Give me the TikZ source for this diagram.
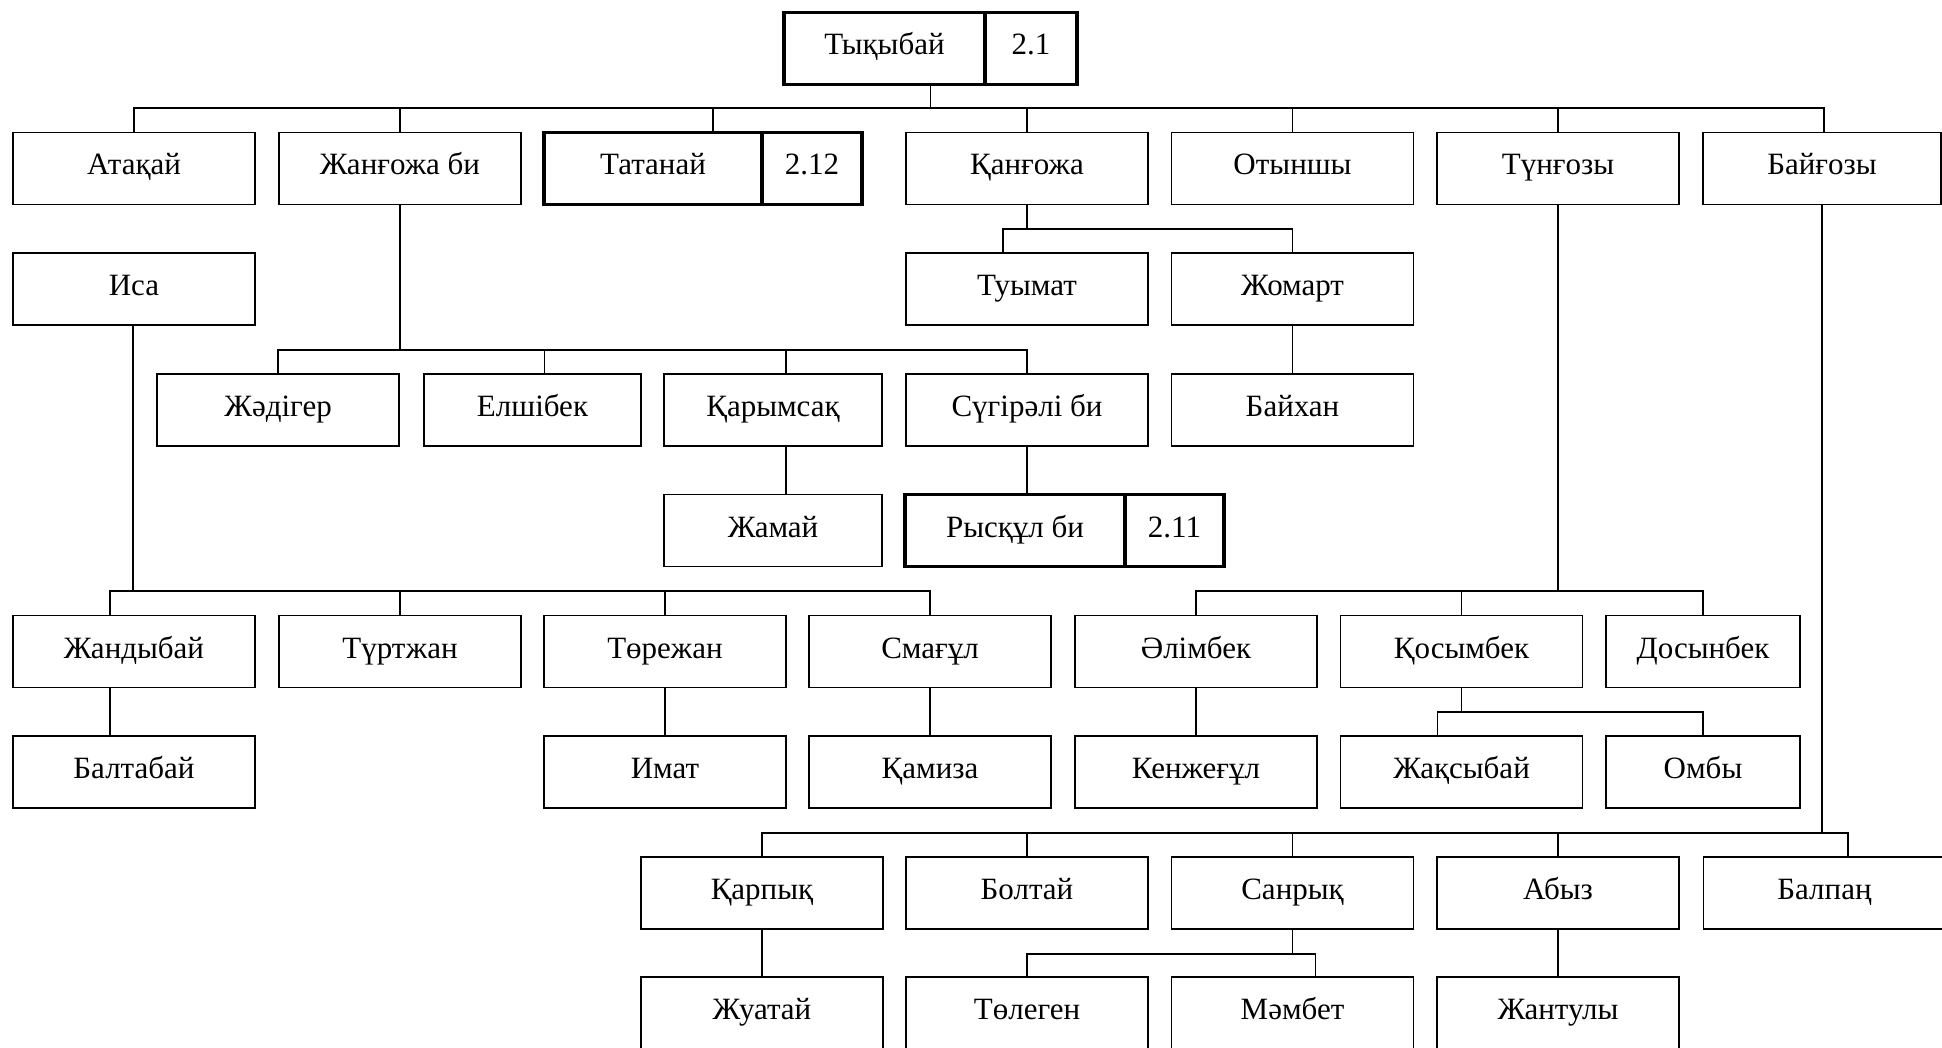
\documentclass[tikz,border=0pt]{standalone}
\usepackage{fontspec}
\setmainfont{Liberation Serif}
\usetikzlibrary{positioning}

\begin{document}
\begin{tikzpicture}[
    x=1pt, y=-1pt,
    person/.style={rectangle, draw, line width=1.2pt,
                   minimum width=242pt, minimum height=72pt, inner sep=0pt,
                   text height=25pt, text depth=12pt,
                   font=\fontsize{31}{36}\selectfont},
    lead/.style={person, line width=3.5pt, outer sep=0pt},
    link/.style={line width=1.2pt}
]
  \useasboundingbox (0,0) rectangle (1942,1048);

  \node[lead, minimum width=201pt] (tyk) at (884.5,48.5) {Тықыбай};
  \node[lead, minimum width=92pt, right=0pt of tyk] (tyknum) {2.1};

  \node[person] (atakay) at (134,168.5) {Атақай};
  \node[person] (zhangozha) at (400,168.5) {Жанғожа би};
  \node[lead, minimum width=218pt] (tatanay) at (653,168.5) {Татанай};
  \node[lead, minimum width=100pt, right=0pt of tatanay] (tatnum) {2.12};
  \node[person] (kangozha) at (1027,168.5) {Қанғожа};
  \node[person] (otynshy) at (1292.5,168.5) {Отыншы};
  \node[person] (tungozy) at (1558,168.5) {Түнғозы};
  \node[person, minimum width=238pt] (baigozy) at (1822,168.5) {Байғозы};

  \node[person] (isa) at (134,289) {Иса};
  \node[person] (tuymat) at (1027,289) {Туымат};
  \node[person] (zhomart) at (1292.5,289) {Жомарт};

  \node[person] (zhadiger) at (278,410) {Жәдігер};
  \node[person, minimum width=217pt] (elshibek) at (532.5,410) {Елшібек};
  \node[person, minimum width=218pt] (karymsak) at (773,410) {Қарымсақ};
  \node[person] (sugirali) at (1027,410) {Сүгірәлі би};
  \node[person] (baikhan) at (1292.5,410) {Байхан};

  \node[person, minimum width=218pt] (zhamai) at (773,530.5) {Жамай};
  \node[lead, minimum width=220pt] (rysqul) at (1015,530.5) {Рысқұл би};
  \node[lead, minimum width=99pt, right=0pt of rysqul] (rysnum) {2.11};

  \node[person] (zhandybai) at (134,651.5) {Жандыбай};
  \node[person] (turtzhan) at (400,651.5) {Түртжан};
  \node[person] (torezhan) at (665,651.5) {Төрежан};
  \node[person] (smagul) at (930,651.5) {Смағұл};
  \node[person] (alimbek) at (1196,651.5) {Әлімбек};
  \node[person] (kosymbek) at (1461.5,651.5) {Қосымбек};
  \node[person, minimum width=194pt] (dosynbek) at (1703,651.5) {Досынбек};

  \node[person] (baltabai) at (134,772) {Балтабай};
  \node[person] (imat) at (665,772) {Имат};
  \node[person] (kamiza) at (930,772) {Қамиза};
  \node[person] (kenzhegul) at (1196,772) {Кенжеғұл};
  \node[person] (zhaksybai) at (1461.5,772) {Жақсыбай};
  \node[person, minimum width=194pt] (omby) at (1703,772) {Омбы};

  \node[person] (karpyk) at (762,893) {Қарпық};
  \node[person] (boltai) at (1027,893) {Болтай};
  \node[person] (sanryk) at (1292.5,893) {Санрық};
  \node[person] (abyz) at (1558,893) {Абыз};
  \node[person] (balpan) at (1824.5,893) {Балпаң};

  \node[person] (zhuatai) at (762,1013) {Жуатай};
  \node[person] (tolegen) at (1027,1013) {Төлеген};
  \node[person] (mambet) at (1292.5,1013) {Мәмбет};
  \node[person] (zhantuly) at (1558,1013) {Жантулы};

  \coordinate (b1) at (930.5,108);
  \coordinate (b2) at (1027,229);
  \coordinate (b3) at (400,350);
  \coordinate (b4) at (133,591);
  \coordinate (b5) at (1558,591);
  \coordinate (b6) at (1461.5,712);
  \coordinate (b7) at (1822,833);
  \coordinate (b8) at (1292.5,954);

  \draw[link] (tyk.south -| b1) -- (b1);
  \draw[link] (b1) -| (atakay.north);
  \draw[link] (b1) -| (zhangozha.north);
  \draw[link] (b1) -| ([xshift=60pt]tatanay.north);
  \draw[link] (b1) -| (kangozha.north);
  \draw[link] (b1) -| (otynshy.north);
  \draw[link] (b1) -| (tungozy.north);
  \draw[link] (b1) -| ([xshift=2pt]baigozy.north);

  \draw[link] (kangozha.south) -- (b2);
  \draw[link] (b2) -| ([xshift=-24pt]tuymat.north);
  \draw[link] (b2) -| (zhomart.north);
  \draw[link] (zhomart) -- (baikhan);

  \draw[link] (zhangozha.south) -- (b3);
  \draw[link] (b3) -| (zhadiger.north);
  \draw[link] (b3) -| ([xshift=12pt]elshibek.north);
  \draw[link] (b3) -| ([xshift=13pt]karymsak.north);
  \draw[link] (b3) -| (sugirali.north);
  \draw[link] ([xshift=13pt]karymsak.south) -- ([xshift=13pt]zhamai.north);
  \draw[link] (sugirali.south) -- ([xshift=12pt]rysqul.north);

  \draw[link] (isa.south -| b4) -- (b4);
  \draw[link] (b4) -| ([xshift=-24pt]zhandybai.north);
  \draw[link] (b4) -| (turtzhan.north);
  \draw[link] (b4) -| (torezhan.north);
  \draw[link] (b4) -| (smagul.north);
  \draw[link] ([xshift=-24pt]zhandybai.south) -- ([xshift=-24pt]baltabai.north);
  \draw[link] (torezhan) -- (imat);
  \draw[link] (smagul) -- (kamiza);

  \draw[link] (tungozy.south) -- (b5);
  \draw[link] (b5) -| (alimbek.north);
  \draw[link] (b5) -| (kosymbek.north);
  \draw[link] (b5) -| (dosynbek.north);
  \draw[link] (alimbek) -- (kenzhegul);
  \draw[link] (kosymbek.south) -- (b6);
  \draw[link] (b6) -| ([xshift=-24pt]zhaksybai.north);
  \draw[link] (b6) -| (omby.north);

  \draw[link] (baigozy.south -| b7) -- (b7);
  \draw[link] (b7) -| (karpyk.north);
  \draw[link] (b7) -| (boltai.north);
  \draw[link] (b7) -| (sanryk.north);
  \draw[link] (b7) -| (abyz.north);
  \draw[link] (b7) -| ([xshift=23.5pt]balpan.north);
  \draw[link] (karpyk) -- (zhuatai);
  \draw[link] (abyz) -- (zhantuly);
  \draw[link] (sanryk.south) -- (b8);
  \draw[link] (b8) -| (tolegen.north);
  \draw[link] (b8) -| ([xshift=23pt]mambet.north);
\end{tikzpicture}
\end{document}
